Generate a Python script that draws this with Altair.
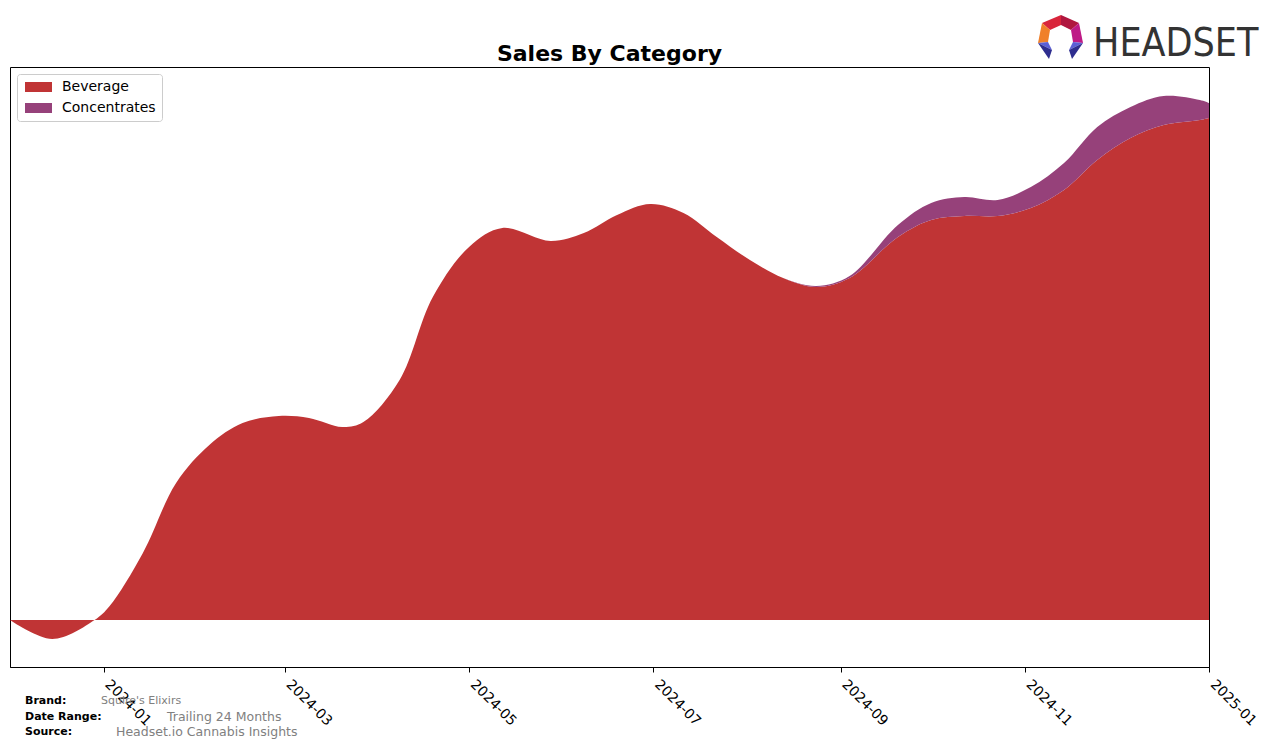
import altair as alt
import pandas as pd

# ---- data (units: arbitrary, relative sales) ----
dates = [
    "2023-12-01", "2023-12-15", "2023-12-29", "2024-01-03", "2024-01-14", "2024-01-25",
    "2024-02-05", "2024-02-16", "2024-02-28", "2024-03-09", "2024-03-20", "2024-03-27",
    "2024-04-08", "2024-04-19", "2024-05-01", "2024-05-12", "2024-05-28", "2024-06-08",
    "2024-06-19", "2024-06-30", "2024-07-11", "2024-07-22", "2024-08-02", "2024-08-13",
    "2024-08-24", "2024-09-04", "2024-09-20", "2024-10-01", "2024-10-12", "2024-10-23",
    "2024-11-03", "2024-11-14", "2024-11-25", "2024-12-06", "2024-12-17", "2024-12-29",
    "2025-01-01",
]
beverage = [
    0, -19, 0, 14, 67, 137,
    175, 197, 204, 202, 193, 198,
    240, 323, 373, 392, 379, 387,
    405, 416, 407, 383, 360, 342,
    333, 342, 383, 400, 404, 404,
    412, 430, 460, 482, 495, 500,
    502,
]
concentrates = [
    0, 0, 0, 0, 0, 0,
    0, 0, 0, 0, 0, 0,
    0, 0, 0, 0, 0, 0,
    0, 0, 0, 0, 0, 0,
    1, 2, 12, 17, 19, 16,
    21, 27, 33, 31, 29, 20,
    15,
]
categories = ["Beverage", "Concentrates"]
colors = ["#C03435", "#96417A"]
tick_dates = ["2024-01", "2024-03", "2024-05", "2024-07", "2024-09", "2024-11", "2025-01"]

rows = []
for i, cat in enumerate(categories):
    series = beverage if cat == "Beverage" else concentrates
    for d, v in zip(dates, series):
        rows.append({"date": d, "value": v, "category": cat, "order": i})
df = pd.DataFrame(rows)

FONT = "DejaVu Sans"


def dt(s):
    y, m = s.split("-")[:2]
    return alt.DateTime(year=int(y), month=int(m), date=1, utc=True)


legend_symbol = "M-1,-1H4.4V1H-1Z"

area = alt.Chart(df).mark_area(interpolate="catmull-rom", opacity=1).encode(
    x=alt.X(
        "date:T",
        scale=alt.Scale(type="utc", domain=[alt.DateTime(year=2023, month=12, date=1, utc=True),
                                            alt.DateTime(year=2025, month=1, date=1, utc=True)],
                        nice=False),
        axis=alt.Axis(
            values=[dt(t) for t in tick_dates],
            format="%Y-%m",
            title=None,
            grid=False,
            labelAngle=45,
            labelAlign="left",
            labelBaseline="top",
            labelOffset=8,
            labelPadding=5,
            labelFont=FONT,
            labelFontSize=14,
            labelColor="black",
            labelFlush=False,
            labelOverlap=False,
            labelBound=False,
            tickSize=5,
            tickColor="black",
            domainColor="black",
        ),
    ),
    y=alt.Y("value:Q", stack="zero",
            scale=alt.Scale(domain=[-47, 553], nice=False, zero=False),
            axis=None),
    color=alt.Color(
        "category:N",
        scale=alt.Scale(domain=categories, range=colors),
        legend=alt.Legend(
            title=None,
            orient="none",
            legendX=7,
            legendY=7,
            symbolType=legend_symbol,
            symbolSize=100,
            symbolStrokeWidth=0,
            symbolOpacity=1,
            labelFont=FONT,
            labelFontSize=14,
            labelColor="black",
            labelOffset=25,
            padding=6,
            rowPadding=7,
            strokeColor="#cccccc",
            fillColor="white",
            cornerRadius=3,
        ),
    ),
    order=alt.Order("order:Q"),
)


def text_layer(txt, x, y, size, color="black", weight="normal", align="left",
               baseline="middle", font=FONT):
    return alt.Chart(pd.DataFrame({"t": [txt]})).mark_text(
        font=font, fontSize=size, color=color, fontWeight=weight,
        align=align, baseline=baseline,
    ).encode(text="t:N", x=alt.value(x), y=alt.value(y))


title = text_layer("Sales By Category", 599.5, -6, 22, weight="bold",
                   align="center", baseline="alphabetic")

footer = [
    text_layer("Brand:", 15, 634, 11, weight="bold"),
    text_layer("Squire's Elixirs", 91, 634, 11, color="gray"),
    text_layer("Date Range:", 15, 650, 11, weight="bold"),
    text_layer("Trailing 24 Months", 157, 650, 12.5, color="gray"),
    text_layer("Source:", 15, 665, 11, weight="bold"),
    text_layer("Headset.io Cannabis Insights", 106, 665, 12.5, color="gray"),
]

# ---- logo (decoration) ----
cx, cy = 1060.5, 37.0  # page coords of icon centre
A, B, C, D = (1061, 15), (1042, 23), (1038, 43), (1049, 59)
E, F, G = (1072, 59), (1083, 43), (1079, 23)
a, b, c = (1061, 25), (1050, 30), (1048, 42)
f, g = (1073, 42), (1071, 30)
dl, dr = (1052, 50), (1069, 50)
pieces = [
    ([A, B, b, a], "#D9253B"),
    ([A, G, g, a], "#B0173F"),
    ([G, F, f, g], "#BE1A86"),
    ([B, C, c, b], "#F0802A"),
    ([C, c, dl], "#5B5FD6"),
    ([C, dl, D], "#2E2D8F"),
    ([F, f, dr], "#5B5FD6"),
    ([F, dr, E], "#2E2D8F"),
]


def to_path(pts):
    s = "M" + "L".join(f"{px - cx:.1f},{py - cy:.1f}" for px, py in pts) + "Z"
    return s


logo_layers = []
for pts, col in pieces:
    logo_layers.append(
        alt.Chart(pd.DataFrame({"k": [0]})).mark_point(
            filled=True, opacity=1, color=col, size=4, shape=to_path(pts), strokeWidth=0
        ).encode(x=alt.value(cx - 10), y=alt.value(cy - 67))
    )
logo_text = text_layer("HEADSET", 1083, -11, 39, color="#333333",
                       baseline="alphabetic",
                       font="DejaVu Sans Condensed, DejaVu Sans")

chart = alt.layer(area, title, *footer, *logo_layers, logo_text).properties(
    width=1199,
    height=600,
    autosize=alt.AutoSizeParams(type="none"),
    padding={"left": 2, "top": 59, "right": 55, "bottom": 75},
).configure_view(stroke="black", strokeWidth=1)

chart.save("out.html", embed_options={"renderer": "svg", "actions": False})
